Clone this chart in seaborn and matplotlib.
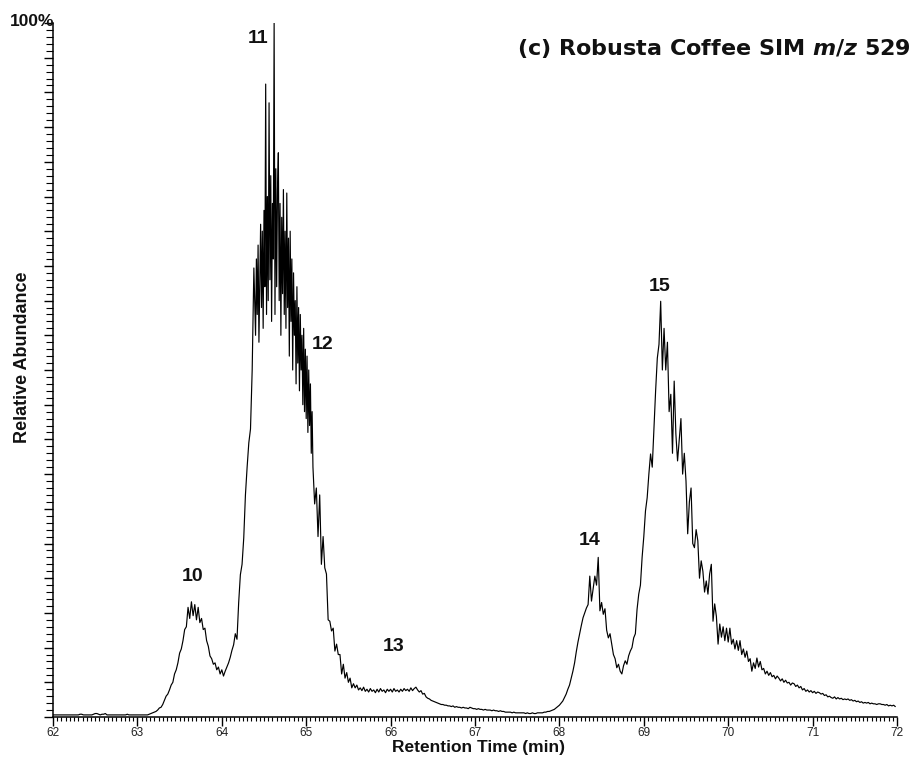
import numpy as np
import matplotlib
matplotlib.use("Agg")
import matplotlib.pyplot as plt
from matplotlib.ticker import MultipleLocator, NullFormatter
import seaborn as sns
import pandas as pd

# ---- data ----
# sampling grids (min): 0.02 min steps, finer 0.01 min steps across the main peak
times_a = np.round(np.arange(62.0, 64.39, 0.02), 2)      # 62.00 .. 64.38
times_main = np.round(np.arange(64.40, 65.085, 0.01), 2)  # 64.40 .. 65.08
times_c = np.round(np.arange(65.10, 71.99, 0.02), 2)     # 65.10 .. 71.98

abundance_a = [
    # 62.00
    0.3, 0.3, 0.3, 0.3, 0.3, 0.3, 0.3, 0.3, 0.3, 0.3,
    0.3, 0.3, 0.3, 0.3, 0.3, 0.3, 0.4, 0.4, 0.3, 0.3,
    0.3, 0.3, 0.3, 0.3, 0.4, 0.5, 0.5, 0.4, 0.3, 0.4,
    0.4, 0.5, 0.3, 0.3, 0.3, 0.3, 0.3, 0.3, 0.3, 0.3,
    0.3, 0.3, 0.3, 0.3, 0.4, 0.3, 0.3, 0.3, 0.3, 0.3,
    # 63.00
    0.3, 0.3, 0.3, 0.3, 0.3, 0.3, 0.3, 0.4, 0.5, 0.6,
    0.7, 0.8, 1.0, 1.3, 1.4, 1.8, 2.4, 3.0, 3.3, 3.9,
    4.6, 5.0, 6.2, 6.8, 7.8, 9.2, 9.8, 11.0, 12.6, 13.0,
    15.8, 14.2, 16.6, 14.6, 16.2, 14.0, 15.8, 13.6, 14.2, 12.6,
    12.8, 11.0, 10.2, 8.8, 8.4, 7.6, 7.8, 6.8, 7.2, 6.2,
    # 64.00
    6.8, 5.9, 6.6, 7.2, 7.8, 8.6, 9.6, 10.4, 12.0, 11.2,
    16.5, 20.5, 22.0, 25.8, 32.0, 36.0, 39.5, 41.5, 50.0, 64.7,
]

abundance_main = [
    55, 66, 58, 68, 54, 62, 71, 59, 70, 56,
    73, 62, 91.2, 58, 75, 60, 88.5, 63, 78, 57,
    74, 66, 100, 58, 79, 62, 76, 81.3, 60, 74,
    55, 72, 61, 76, 58, 70, 56, 75.5, 59, 69,
    52, 70, 57, 66, 50, 64, 55, 60, 48, 62,
    51, 59, 47, 58, 50, 55, 45, 56, 44, 53,
    43, 52, 41, 50, 42, 48, 38, 44, 36,
]

abundance_c = [
    30.7, 33.0, 26.0, 32.0, 22.0,
    26.0, 21.5, 20.6, 14.0, 13.8, 12.4, 12.8, 9.5, 10.5, 9.0,
    9.0, 6.2, 7.6, 5.6, 6.4, 5.0, 5.6, 4.2, 4.8, 4.2,
    4.6, 3.9, 4.2, 3.8, 4.3, 3.7, 4.0, 3.6, 4.1, 3.7,
    3.9, 3.5, 4.0, 3.6, 4.1, 3.7, 3.9, 3.5, 4.0, 3.7,
    # 66.00
    4.0, 3.6, 4.1, 3.7, 3.9, 3.6, 4.0, 3.7, 4.1, 3.8,
    4.0, 3.7, 4.2, 3.8, 4.1, 4.3, 3.9, 3.6, 3.8, 3.3,
    3.4, 2.9, 2.7, 2.6, 2.4, 2.3, 2.2, 2.1, 2.0, 1.9,
    1.8, 1.8, 1.7, 1.7, 1.6, 1.6, 1.5, 1.6, 1.4, 1.5,
    1.4, 1.4, 1.3, 1.4, 1.3, 1.3, 1.2, 1.4, 1.3, 1.2,
    # 67.00
    1.2, 1.1, 1.2, 1.1, 1.1, 1.0, 1.1, 1.0, 1.0, 1.0,
    0.9, 1.0, 0.9, 0.9, 0.8, 0.9, 0.8, 0.8, 0.7, 0.7,
    0.7, 0.7, 0.6, 0.7, 0.6, 0.6, 0.6, 0.6, 0.6, 0.6,
    0.5, 0.6, 0.5, 0.5, 0.6, 0.5, 0.5, 0.6, 0.6, 0.6,
    0.6, 0.7, 0.7, 0.8, 0.8, 0.9, 1.0, 1.1, 1.3, 1.5,
    # 68.00
    1.7, 2.0, 2.3, 2.8, 3.3, 4.0, 4.6, 5.6, 6.6, 7.8,
    9.4, 10.8, 12.0, 13.2, 14.3, 15.0, 15.7, 16.2, 20.3, 16.7,
    18.5, 20.3, 19.0, 23.0, 15.3, 16.5, 14.8, 15.6, 12.5, 11.4,
    12.0, 10.5, 9.0, 8.4, 7.1, 7.6, 6.6, 6.2, 7.4, 8.1,
    7.6, 8.8, 9.5, 10.0, 11.4, 12.0, 15.5, 17.7, 19.0, 23.0,
    # 69.00
    26.0, 29.7, 31.6, 35.0, 37.9, 36.0, 41.6, 47.0, 51.7, 53.7,
    59.9, 50.0, 56.0, 50.0, 54.0, 44.0, 46.5, 38.0, 48.4, 40.8,
    36.9, 40.0, 43.0, 35.0, 38.0, 34.0, 26.4, 31.0, 33.0, 25.0,
    24.4, 27.0, 25.4, 20.0, 22.5, 21.0, 18.0, 19.6, 17.7, 20.6,
    22.0, 13.8, 16.3, 14.5, 10.5, 13.4, 11.5, 13.0, 11.0, 12.8,
    # 70.00
    10.8, 12.8, 10.5, 11.2, 9.8, 11.0, 9.6, 11.0, 9.0, 9.8,
    8.6, 9.5, 8.0, 8.4, 6.6, 7.8, 7.0, 8.5, 7.2, 8.0,
    6.8, 7.0, 6.2, 6.6, 6.0, 6.4, 5.8, 6.0, 5.5, 5.9,
    5.6, 5.2, 5.5, 5.0, 5.3, 4.9, 5.0, 4.6, 4.9, 4.8,
    4.4, 4.6, 4.2, 4.4, 3.9, 4.1, 3.7, 3.9, 3.6, 3.8,
    # 71.00
    3.5, 3.7, 3.4, 3.6, 3.5, 3.3, 3.4, 3.1, 3.2, 2.9,
    3.0, 2.8, 2.7, 2.9, 2.6, 2.8, 2.6, 2.7, 2.5, 2.6,
    2.5, 2.6, 2.4, 2.5, 2.3, 2.4, 2.2, 2.3, 2.1, 2.2,
    2.0, 2.1, 2.0, 2.1, 1.9, 2.0, 1.9, 1.9, 1.8, 1.9,
    1.9, 1.8, 1.8, 1.7, 1.8, 1.6, 1.7, 1.6, 1.7, 1.5,
]

peak_labels = ["10", "11", "12", "13", "14", "15"]
peak_x = [63.65, 64.43, 65.19, 66.04, 68.36, 69.19]
peak_y = [20.2, 97.7, 53.7, 10.1, 25.5, 62.1]

x_ticks = [62, 63, 64, 65, 66, 67, 68, 69, 70, 71, 72]

# ---- figure ----
sns.set_style("ticks")
plt.rcParams["font.family"] = ["Liberation Sans", "DejaVu Sans"]
plt.rcParams["mathtext.fontset"] = "dejavusans"

W, H = 917, 757
fig = plt.figure(figsize=(W / 100, H / 100), dpi=100)
ax = fig.add_axes([53 / W, (H - 717) / H, 844 / W, 694 / H])

df = pd.DataFrame({
    "time": np.concatenate([times_a, times_main, times_c]),
    "abundance": abundance_a + abundance_main + abundance_c,
})
sns.lineplot(data=df, x="time", y="abundance", ax=ax, color="black",
             linewidth=0.85, estimator=None)

ax.set_xlim(62, 72)
ax.set_ylim(0, 100)
for s in ["top", "right"]:
    ax.spines[s].set_visible(False)
for s in ["left", "bottom"]:
    ax.spines[s].set_linewidth(1.1)
    ax.spines[s].set_color("black")

ax.set_xticks(x_ticks)
ax.set_xticklabels([str(t) for t in x_ticks], fontsize=8.5)
ax.xaxis.set_minor_locator(MultipleLocator(0.05))
ax.yaxis.set_major_locator(MultipleLocator(5))
ax.yaxis.set_minor_locator(MultipleLocator(1))
ax.yaxis.set_major_formatter(NullFormatter())
ax.tick_params(axis="x", which="major", length=6.5, width=1, pad=1.0,
               colors="black", labelcolor="#222222")
ax.tick_params(axis="x", which="minor", length=2.6, width=0.8, colors="black")
ax.tick_params(axis="y", which="major", length=6.5, width=1, colors="black")
ax.tick_params(axis="y", which="minor", length=5, width=0.8, colors="black")

ax.set_xlabel("Retention Time (min)", fontsize=12.5, fontweight="bold",
              color="#111111")
ax.xaxis.set_label_coords((478 - 53) / 844, -(755 - 717) / 694)
ax.xaxis.label.set_va("bottom")
ax.set_ylabel("Relative Abundance", fontsize=13, fontweight="bold",
              color="#111111")
ax.yaxis.set_label_coords((31 - 53) / 844, (717 - 357) / 694)

for lab, px, py in zip(peak_labels, peak_x, peak_y):
    ax.text(px, py, lab, fontsize=14, fontweight="bold", ha="center", va="center",
            color="#111111")

fig.text(54 / W, 1 - 22 / H, "100%", fontsize=12.5, fontweight="bold",
         ha="right", va="center", color="#111111")
fig.text(911 / W, 1 - 49 / H,
         r"(c) Robusta Coffee SIM $\boldsymbol{m/z}$ 529", fontsize=16,
         fontweight="bold", family=["DejaVu Sans"], ha="right", va="center",
         color="#111111")

fig.savefig("out.png", dpi=100)
